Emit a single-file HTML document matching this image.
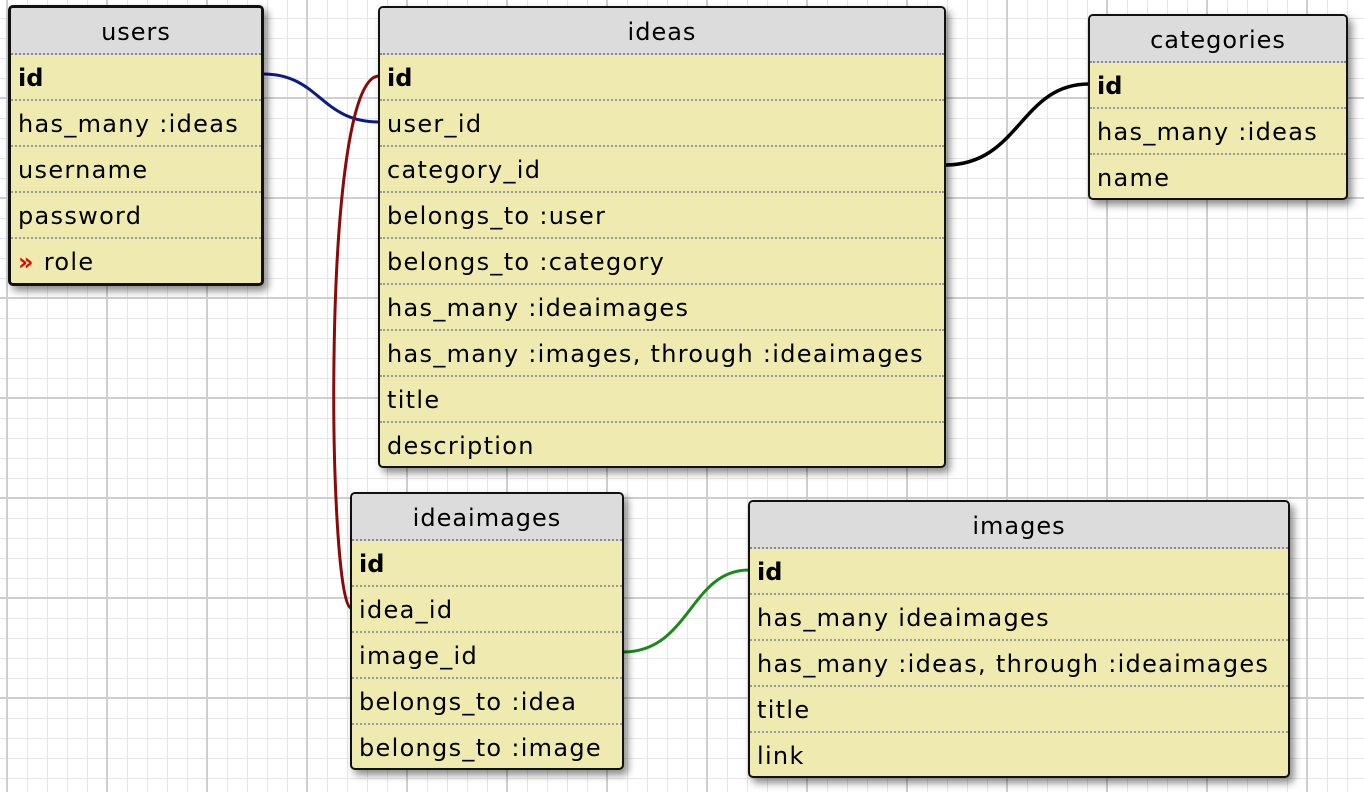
<!DOCTYPE html>
<html><head><style>
body{margin:0;width:1364px;height:792px;overflow:hidden;position:relative;
background-color:#fff;
background-image:
linear-gradient(to right,#cfcfcf 2px,transparent 2px),
linear-gradient(to bottom,#cfcfcf 2px,transparent 2px),
linear-gradient(to right,#e6e6e6 1px,transparent 1px),
linear-gradient(to bottom,#e6e6e6 1px,transparent 1px);
background-size:100px 100px,100px 100px,20px 20px,20px 20px;
background-position:6px 0,0 -3px,7px 0,0 -2px;
font-family:"DejaVu Sans","Liberation Sans",sans-serif;}
.t{position:absolute;border:2px solid #111;border-radius:5px;background:#efebb0;box-shadow:4px 5px 8px rgba(0,0,0,.45);overflow:hidden;box-sizing:border-box}
.t.sel{border-width:3px}
.h{height:45px;background:#dcdcdc;text-align:center;font-size:24px;letter-spacing:1px;line-height:48px;border-bottom:2px dotted #888;color:#000}
.r{height:44px;line-height:47px;font-size:24px;letter-spacing:1.3px;padding-left:7px;border-bottom:2px dotted #999;color:#000;white-space:nowrap}
.r:last-child{border-bottom:none}
.b{font-weight:bold;letter-spacing:0}
svg{position:absolute;left:0;top:0}
</style></head><body>
<svg width="1364" height="792">
<path d="M263,74 C320,74 320,122 379,122" stroke="#0a1a8a" stroke-width="3" fill="none"/>
<path d="M379,76 C320,76 328,608 351,608" stroke="#8a0a0a" stroke-width="3" fill="none"/>
<path d="M945,165 C1020,165 1020,84 1089,84" stroke="#000" stroke-width="3.5" fill="none"/>
<path d="M623,652 C690,652 690,570 749,570" stroke="#1a8a1a" stroke-width="3" fill="none"/>
</svg>
<div class="t sel" style="left:8px;top:5px;width:256px;height:281px">
<div class="h">users</div>
<div class="r b">id</div><div class="r">has_many :ideas</div><div class="r">username</div><div class="r">password</div><div class="r"><span style="color:#e00;font-weight:bold">»</span> role</div>
</div>
<div class="t" style="left:378px;top:6px;width:568px;height:462px">
<div class="h">ideas</div>
<div class="r b">id</div><div class="r">user_id</div><div class="r">category_id</div><div class="r">belongs_to :user</div><div class="r">belongs_to :category</div><div class="r">has_many :ideaimages</div><div class="r">has_many :images, through :ideaimages</div><div class="r">title</div><div class="r">description</div>
</div>
<div class="t" style="left:1088px;top:14px;width:260px;height:186px">
<div class="h">categories</div>
<div class="r b">id</div><div class="r">has_many :ideas</div><div class="r">name</div>
</div>
<div class="t" style="left:350px;top:492px;width:274px;height:278px">
<div class="h">ideaimages</div>
<div class="r b">id</div><div class="r">idea_id</div><div class="r">image_id</div><div class="r">belongs_to :idea</div><div class="r">belongs_to :image</div>
</div>
<div class="t" style="left:748px;top:500px;width:542px;height:278px">
<div class="h">images</div>
<div class="r b">id</div><div class="r">has_many ideaimages</div><div class="r">has_many :ideas, through :ideaimages</div><div class="r">title</div><div class="r">link</div>
</div>
</body></html>
